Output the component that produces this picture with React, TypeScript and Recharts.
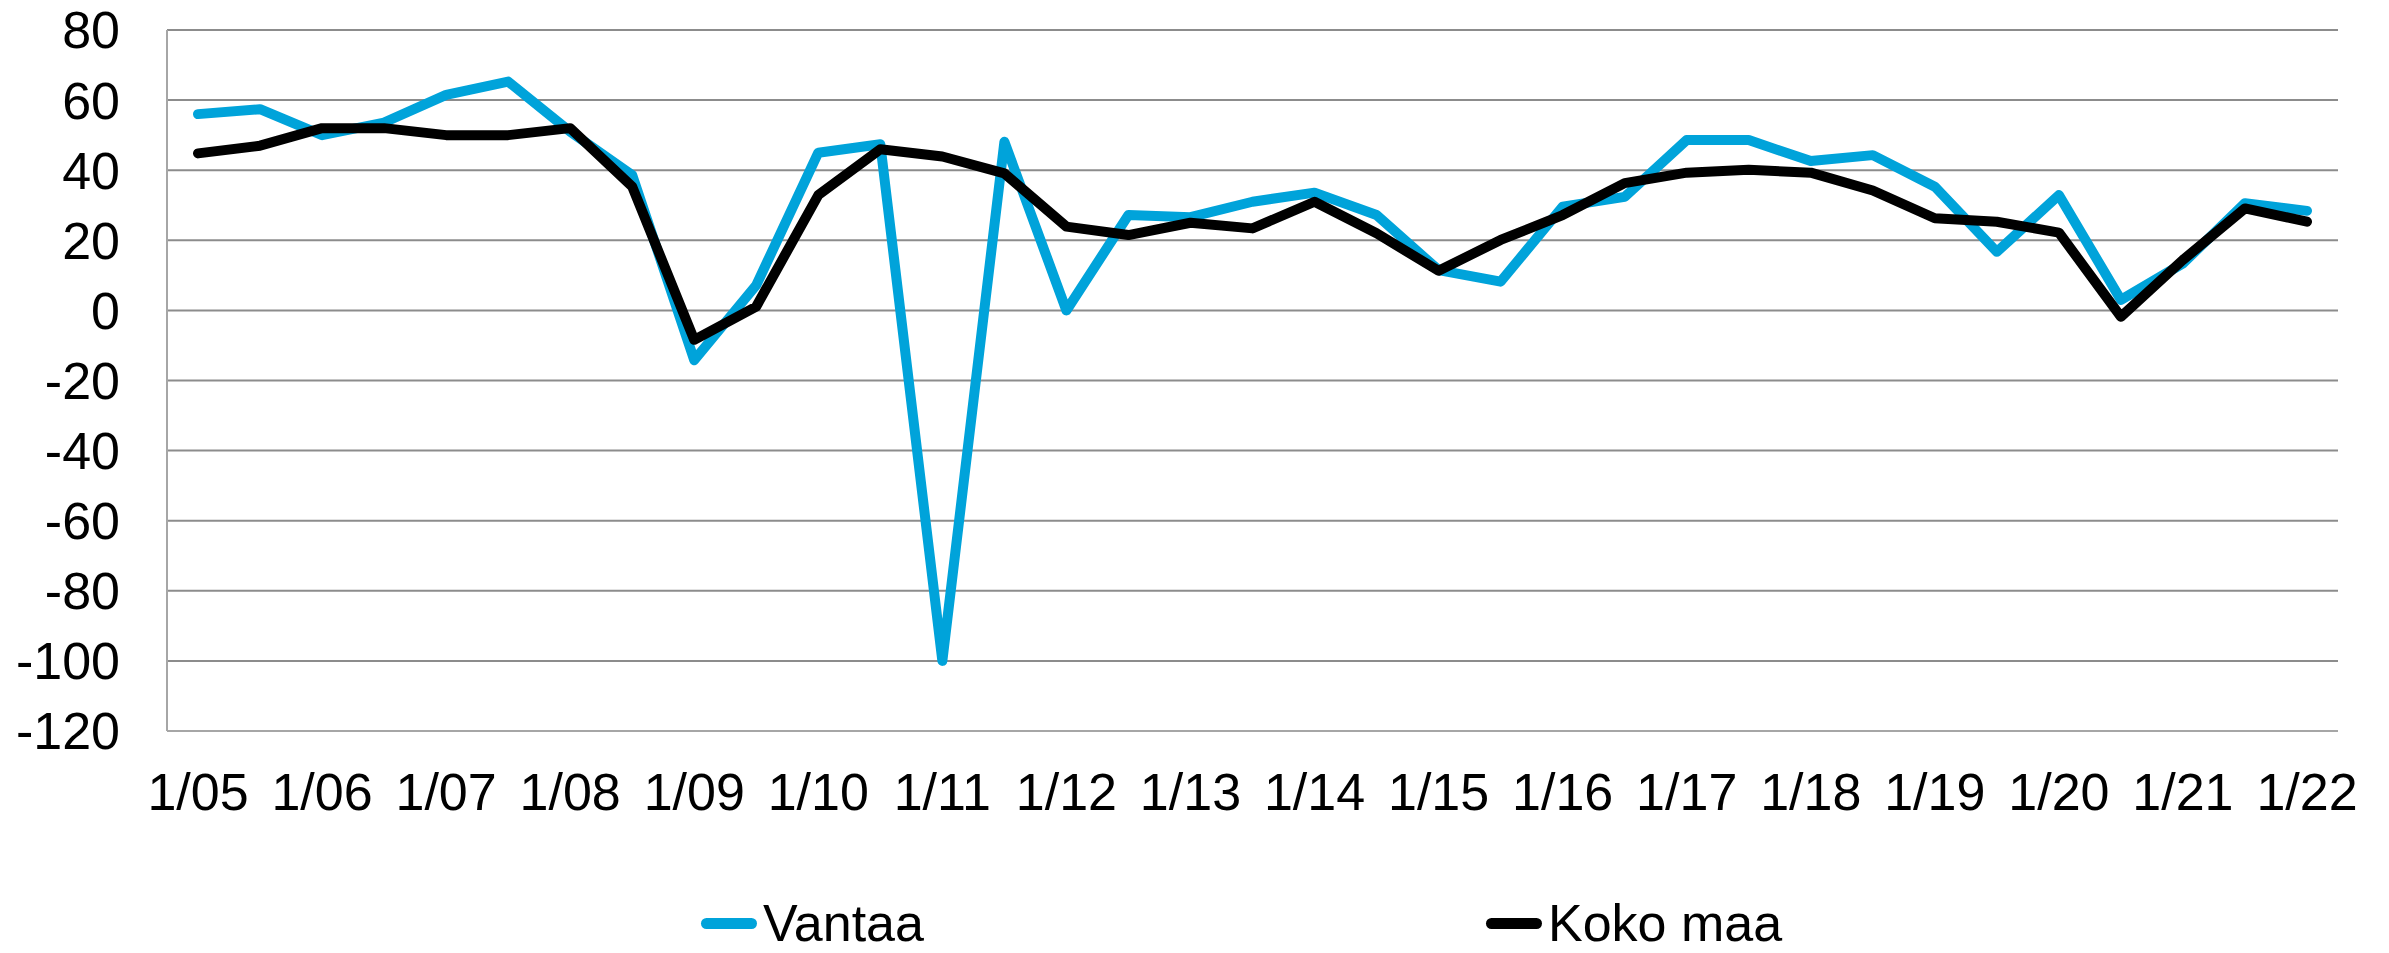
import React from "react";
import {
  LineChart,
  Line,
  XAxis,
  YAxis,
  CartesianGrid,
  Legend,
} from "recharts";

const periods = [
  "1/05", "7/05", "1/06", "7/06", "1/07", "7/07", "1/08", "7/08", "1/09", "7/09",
  "1/10", "7/10", "1/11", "7/11", "1/12", "7/12", "1/13", "7/13", "1/14", "7/14",
  "1/15", "7/15", "1/16", "7/16", "1/17", "7/17", "1/18", "7/18", "1/19", "7/19",
  "1/20", "7/20", "1/21", "7/21", "1/22",
];

const vantaa = [
  56, 57.4, 50, 53.6, 61.5, 65.3, 51, 38.6, -14.2, 7.2,
  45, 47.4, -100, 48.1, 0, 27.2, 26.6, 31, 33.6, 27.2,
  11.5, 8.2, 29.6, 32.4, 48.6, 48.6, 42.6, 44.3, 35.3, 16.7,
  32.9, 3, 13.4, 30.6, 28.4,
];

const kokoMaa = [
  44.8, 47, 52, 52, 50, 50, 52, 35.3, -8.4, 1.1,
  32.9, 46, 43.9, 39.1, 23.9, 21.5, 25, 23.4, 31, 22,
  11.3, 20.1, 27.2, 36.3, 39.3, 40.1, 39.3, 34.2, 26.3, 25.3,
  22.2, -1.8, 14.4, 29.1, 25.3,
];

const yTicks = [-120, -100, -80, -60, -40, -20, 0, 20, 40, 60, 80];

const seriesNames = ["Vantaa", "Koko maa"];
const seriesColors = ["#00a3da", "#000000"];

const data = periods.map((p, i) => ({
  period: p,
  vantaa: vantaa[i],
  koko: kokoMaa[i],
}));

const font = "'Liberation Sans', Arial, sans-serif";

function MyLegend() {
  // two items spread out like the excel legend
  const lefts = [693, 1478];
  return (
    <div style={{ position: "relative", height: 122, fontFamily: font }}>
      {seriesNames.map((name, i) => (
        <div
          key={name}
          style={{
            position: "absolute",
            left: lefts[i],
            top: 66,
            height: 52,
            display: "flex",
            alignItems: "center",
            fontSize: 52,
            lineHeight: "52px",
            color: "#000",
            whiteSpace: "nowrap",
          }}
        >
          <span
            style={{
              display: "inline-block",
              width: 56,
              height: 11,
              borderRadius: 6,
              background: seriesColors[i],
              marginRight: 6,
            }}
          />
          {name}
        </div>
      ))}
    </div>
  );
}

export default function App() {
  // pull the chart up over the body margin so the "80" label is not clipped
  return (
    <div style={{ marginTop: -8, height: 945 }}>
      <LineChart
        width={2373}
        height={953}
        data={data}
        margin={{ top: 30, right: 43, bottom: 0, left: 0 }}
      >
        <CartesianGrid vertical={false} stroke="#8c8c8c" strokeWidth={2} />
        <XAxis
          dataKey="period"
          interval={1}
          padding={{ left: 31, right: 31 }}
          height={100}
          tickSize={0}
          tickMargin={42}
          axisLine={{ stroke: "#a6a6a6", strokeWidth: 2 }}
          tick={{ fill: "#000", fontSize: 52, fontFamily: font }}
        />
        <YAxis
          domain={[-120, 80]}
          ticks={yTicks}
          interval={0}
          width={159}
          tickSize={0}
          tickMargin={47}
          axisLine={{ stroke: "#a6a6a6", strokeWidth: 2 }}
          tick={{ fill: "#000", fontSize: 52, fontFamily: font }}
        />
        <YAxis
          yAxisId="border"
          orientation="right"
          width={0}
          tick={false}
          tickLine={false}
          axisLine={{ stroke: "#a6a6a6", strokeWidth: 2 }}
        />
        <Legend verticalAlign="bottom" height={122} content={() => <MyLegend />} />
        <Line
          type="linear"
          dataKey="vantaa"
          name={seriesNames[0]}
          stroke={seriesColors[0]}
          strokeWidth={10}
          strokeLinecap="round"
          strokeLinejoin="round"
          dot={false}
          isAnimationActive={false}
        />
        <Line
          type="linear"
          dataKey="koko"
          name={seriesNames[1]}
          stroke={seriesColors[1]}
          strokeWidth={10}
          strokeLinecap="round"
          strokeLinejoin="round"
          dot={false}
          isAnimationActive={false}
        />
      </LineChart>
    </div>
  );
}
